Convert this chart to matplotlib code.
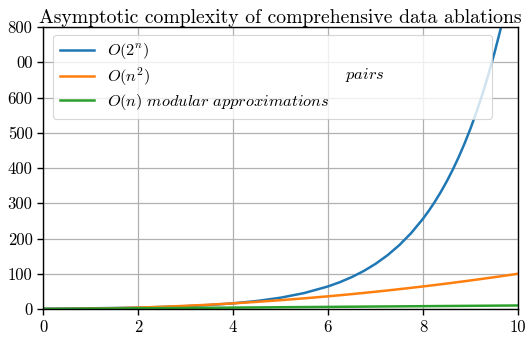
import matplotlib
matplotlib.use("Agg")
import matplotlib.pyplot as plt

plt.rcParams["font.family"] = "serif"
plt.rcParams["font.serif"] = ["cmr10", "DejaVu Serif"]
plt.rcParams["mathtext.fontset"] = "cm"
plt.rcParams["axes.formatter.use_mathtext"] = True

# Problem sizes (denser where the exponential bends) and cost of each strategy
n = [0, 0.5, 1, 1.5, 2, 2.5, 3, 3.5, 4, 4.5, 5, 5.5, 6, 6.25, 6.5, 6.75, 7, 7.25,
     7.5, 7.75, 8, 8.125, 8.25, 8.375, 8.5, 8.625, 8.75, 8.875, 9, 9.125, 9.25,
     9.375, 9.5, 9.625, 9.75, 9.875, 10]
exhaustive = [1, 1.41, 2, 2.83, 4, 5.66, 8, 11.31, 16, 22.63, 32, 45.25, 64, 76.11,
              90.51, 107.63, 128, 152.22, 181.02, 215.27, 256, 279.17, 304.44,
              331.98, 362.04, 394.80, 430.54, 469.51, 512, 558.35, 608.87, 663.98,
              724.08, 789.58, 861.08, 939.01, 1024]
pairwise = [0, 0.25, 1, 2.25, 4, 6.25, 9, 12.25, 16, 20.25, 25, 30.25, 36, 39.06,
            42.25, 45.56, 49, 52.56, 56.25, 60.06, 64, 66.02, 68.06, 70.14, 72.25,
            74.39, 76.56, 78.77, 81, 83.27, 85.56, 87.89, 90.25, 92.64, 95.06,
            97.52, 100]
modular = [0, 0.5, 1, 1.5, 2, 2.5, 3, 3.5, 4, 4.5, 5, 5.5, 6, 6.25, 6.5, 6.75, 7, 7.25,
           7.5, 7.75, 8, 8.125, 8.25, 8.375, 8.5, 8.625, 8.75, 8.875, 9, 9.125, 9.25,
           9.375, 9.5, 9.625, 9.75, 9.875, 10]

labels = [r"$O(2^n)$", r"$O(n^2)$", r"$O(n)\ modular\ approximations$"]
y_ticks = [0, 100, 200, 300, 400, 500, 600, 700, 800]
y_tick_labels = ["0", "100", "200", "300", "400", "500", "600", "00", "800"]
x_ticks = [0, 2, 4, 6, 8, 10]

fig = plt.figure(figsize=(5.27, 3.40), dpi=100)
ax = fig.add_axes([43 / 527, 1 - 309 / 340, 475 / 527, 282 / 340])

ax.plot(n, exhaustive, color="#1f77b4", lw=1.8, label=labels[0])
ax.plot(n, pairwise, color="#ff7f0e", lw=1.8, label=labels[1])
ax.plot(n, modular, color="#2ca02c", lw=1.8, label=labels[2])

ax.set_xlim(0, 10)
ax.set_ylim(0, 800)
ax.set_xticks(x_ticks)
ax.set_xticklabels([str(t) for t in x_ticks])
ax.set_yticks(y_ticks)
ax.set_yticklabels(y_tick_labels)
ax.tick_params(labelsize=12, length=4, width=1, colors="black")
ax.grid(True, color="#b0b0b0", lw=0.9)
ax.set_axisbelow(True)
for s in ax.spines.values():
    s.set_linewidth(1.0)
    s.set_color("black")

ax.set_title("Asymptotic complexity of comprehensive data ablations", fontsize=14.2, pad=3)

leg = ax.legend(loc="upper left", bbox_to_anchor=(0.021, 0.5, 0.924, 0.472),
                mode="expand", borderaxespad=0, fontsize=11.8, framealpha=0.8,
                handlelength=2.1, labelspacing=0.25)
leg.get_frame().set_linewidth(0.8)

ax.text(0.636, 0.83, r"$pairs$", transform=ax.transAxes, fontsize=11.8,
        ha="left", va="center", zorder=6)

fig.savefig("out.png", dpi=100)
